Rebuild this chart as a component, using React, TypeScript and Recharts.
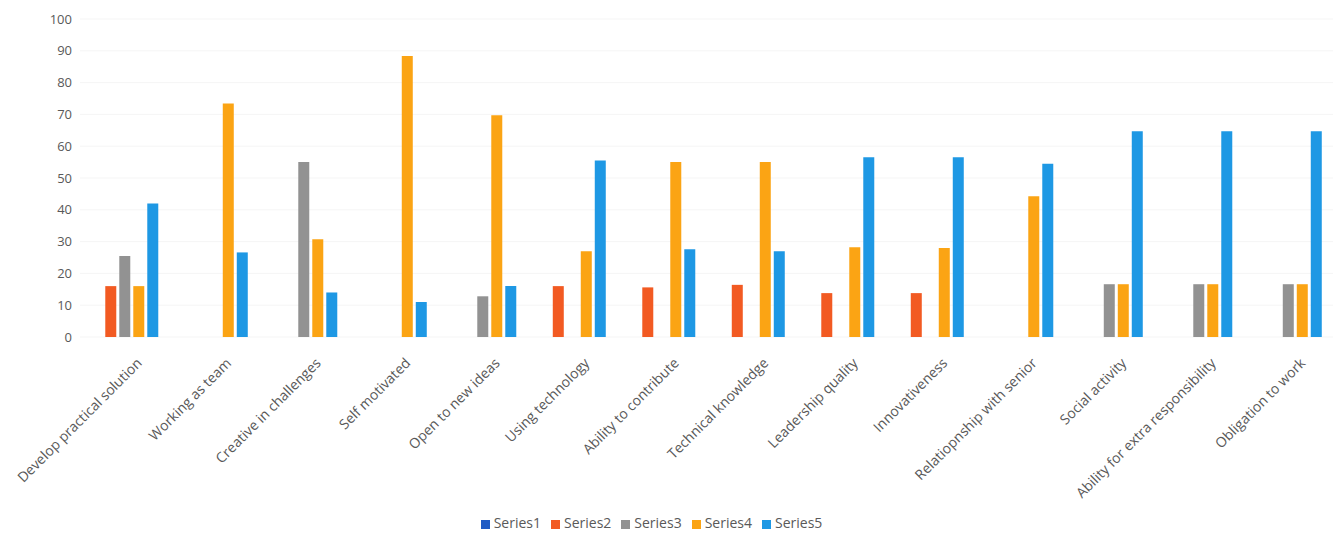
import React from 'react';
import {
  BarChart,
  Bar,
  XAxis,
  YAxis,
  CartesianGrid,
  Legend,
} from 'recharts';

const categories = [
  'Develop practical solution',
  'Working as team',
  'Creative in challenges',
  'Self motivated',
  'Open to new ideas',
  'Using technology',
  'Ability to contribute',
  'Technical knowledge',
  'Leadership quality',
  'Innovativeness',
  'Relatiopnship with senior',
  'Social activity',
  'Ability for extra responsibility',
  'Obligation to work',
];

const series1 = [0, 0, 0, 0, 0, 0, 0, 0, 0, 0, 0, 0, 0, 0];
const series2 = [16, 0, 0, 0, 0, 16, 15.6, 16.4, 13.8, 13.8, 0, 0, 0, 0];
const series3 = [25.5, 0, 55, 0, 12.8, 0, 0, 0, 0, 0, 0, 16.6, 16.6, 16.6];
const series4 = [16, 73.4, 30.7, 88.4, 69.7, 27, 55, 55, 28.2, 28, 44.3, 16.6, 16.6, 16.6];
const series5 = [42, 26.6, 14, 11, 16, 55.5, 27.6, 27, 56.5, 56.5, 54.5, 64.7, 64.7, 64.7];

const yTicks = [0, 10, 20, 30, 40, 50, 60, 70, 80, 90, 100];

const seriesList = [
  { key: 'Series1', values: series1, color: '#1F5BC4' },
  { key: 'Series2', values: series2, color: '#F25A22' },
  { key: 'Series3', values: series3, color: '#929292' },
  { key: 'Series4', values: series4, color: '#FBA414' },
  { key: 'Series5', values: series5, color: '#1E98E4' },
];

const data = categories.map((name, i) => {
  const row: Record<string, string | number> = { name };
  seriesList.forEach((s) => {
    row[s.key] = s.values[i];
  });
  return row;
});

const FONT = '"Open Sans", "Noto Sans", sans-serif';

// rotated category label, end of text sits just right of the group centre
function CategoryTick({ x, y, payload }: { x?: number; y?: number; payload?: { value: string } }) {
  return (
    <g transform={`translate(${(x ?? 0) + 18},${(y ?? 0) + 19})`}>
      <text
        x={0}
        y={0}
        textAnchor="end"
        transform="rotate(-45)"
        fill="#595959"
        fontSize={14}
        fontFamily={FONT}
      >
        {payload?.value}
      </text>
    </g>
  );
}

export default function App() {
  return (
    <div style={{ position: 'absolute', left: 0, top: 0, width: 1335, height: 556, background: '#fff' }}>
      <BarChart
        width={1335}
        height={556}
        data={data}
        margin={{ top: 19, right: 2, left: 0, bottom: 24 }}
        barCategoryGap="12.6%"
        barGap={3}
      >
        <CartesianGrid vertical={false} stroke="#f5f5f5" />
        <XAxis
          dataKey="name"
          interval={0}
          axisLine={false}
          tickLine={false}
          height={176}
          tick={<CategoryTick />}
        />
        <YAxis
          domain={[0, 100]}
          ticks={yTicks}
          width={80}
          axisLine={false}
          tickLine={false}
          tickMargin={2}
          tick={{ fill: '#595959', fontSize: 13, fontFamily: FONT }}
        />
        <Legend
          verticalAlign="bottom"
          iconType="square"
          iconSize={9}
          wrapperStyle={{ fontFamily: FONT, fontSize: 14, color: '#595959', left: -10 }}
          formatter={(value) => <span style={{ color: '#595959' }}>{value}</span>}
        />
        {seriesList.map((s) => (
          <Bar key={s.key} dataKey={s.key} name={s.key} fill={s.color} isAnimationActive={false} />
        ))}
      </BarChart>
    </div>
  );
}
